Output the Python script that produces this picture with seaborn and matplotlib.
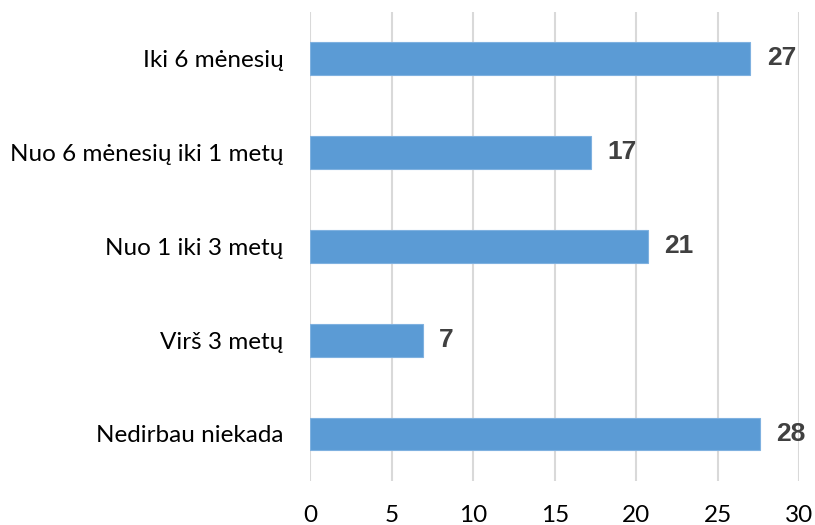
import pandas as pd
import seaborn as sns
import matplotlib.pyplot as plt

# Data
categories = ["Iki 6 mėnesių", "Nuo 6 mėnesių iki 1 metų", "Nuo 1 iki 3 metų",
              "Virš 3 metų", "Nedirbau niekada"]
values = [27.0, 17.2, 20.7, 6.9, 27.6]
x_ticks = [0, 5, 10, 15, 20, 25, 30]

df = pd.DataFrame({"category": categories, "value": values})

sns.set_theme(style="white")
plt.rcParams["font.family"] = ["Lato", "DejaVu Sans"]

fig = plt.figure(figsize=(8.15, 5.25), dpi=100)
ax = fig.add_axes([0.3804, 0.084, 0.6004, 0.894])

sns.barplot(data=df, x="value", y="category", orient="h", color="#5B9BD5",
            width=0.35, saturation=1, edgecolor="#7FB1E0", linewidth=0.8, ax=ax)

# Value labels
for i, v in enumerate(values):
    ax.text(v + 1.0, i, f"{v:.0f}", va="center", ha="left", fontsize=19,
            fontweight="bold", color="#404040", family="Liberation Sans")

ax.set_xlim(0, 30)
ax.set_ylim(4.5, -0.5)
ax.set_xticks(x_ticks)
ax.xaxis.grid(True, color="#D9D9D9", linewidth=1.5)
ax.set_axisbelow(True)
for s in ax.spines.values():
    s.set_visible(False)
ax.set_xlabel("")
ax.set_ylabel("")
ax.tick_params(axis="y", length=0, pad=19, labelsize=17.5, labelcolor="#000000")
ax.tick_params(axis="x", length=0, pad=17, labelsize=17.5, labelcolor="#000000")

fig.savefig("out.png", dpi=100)
